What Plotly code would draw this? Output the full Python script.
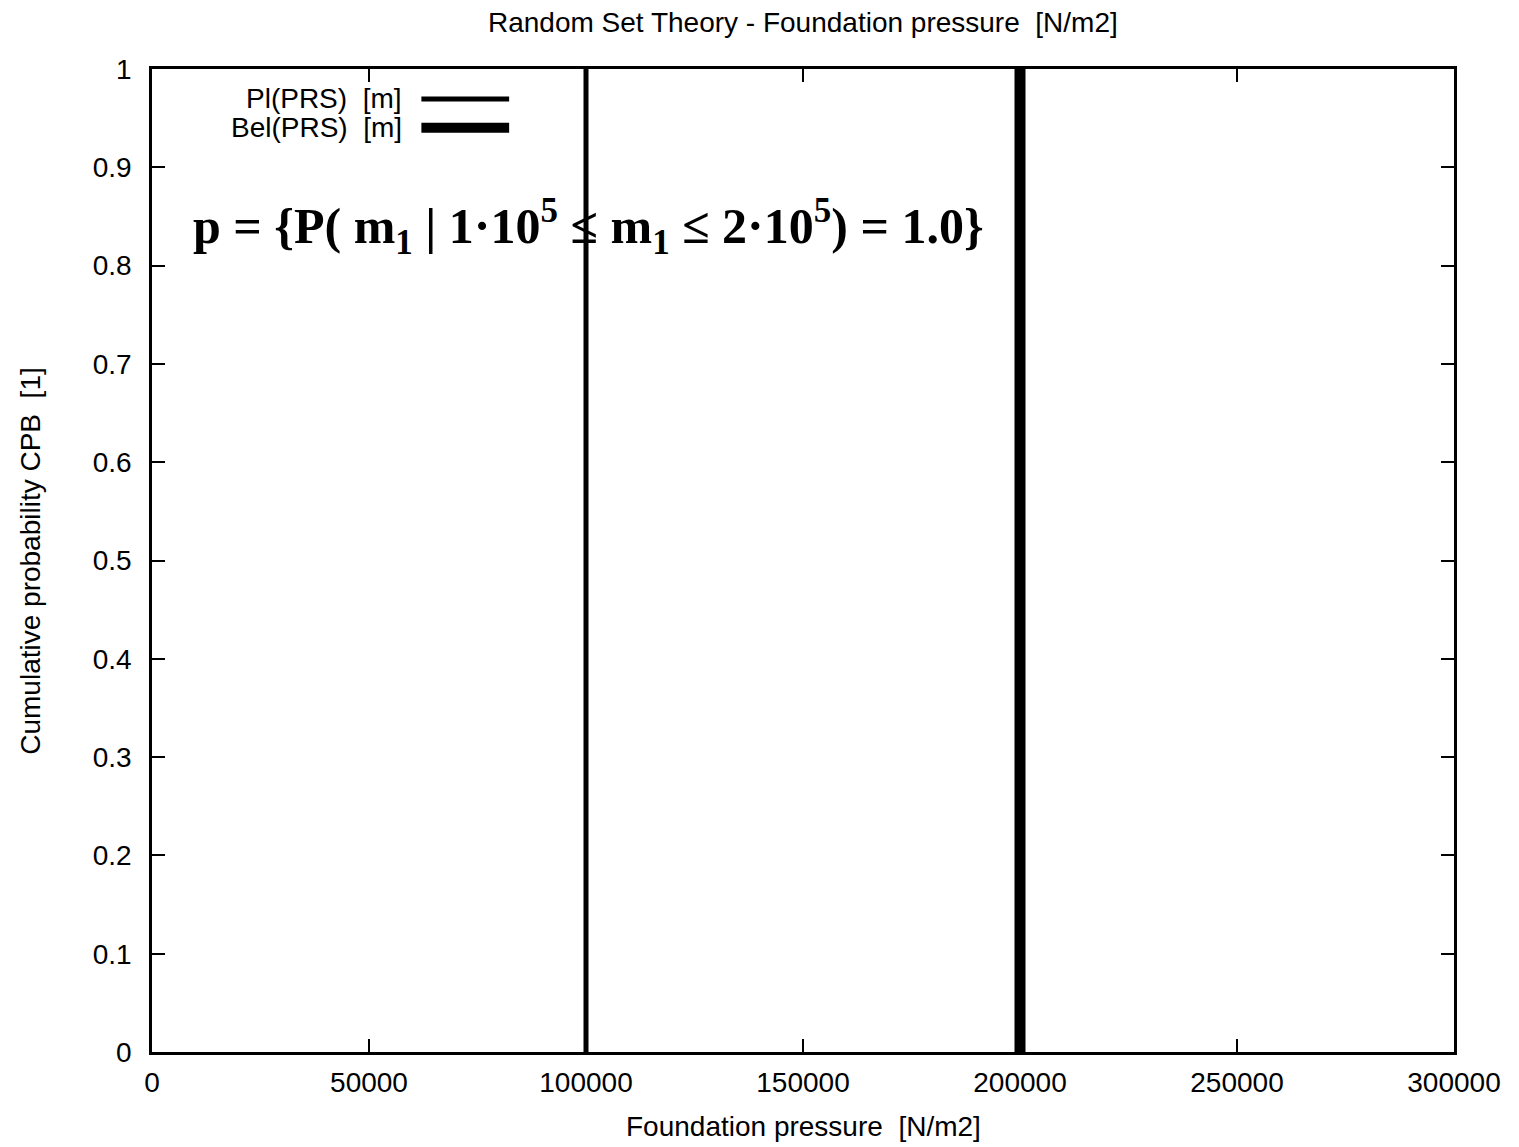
import plotly.graph_objects as go

# Data
pl_x = [100000, 100000]
pl_y = [0, 1]
bel_x = [200000, 200000]
bel_y = [0, 1]
x_ticks = [0, 50000, 100000, 150000, 200000, 250000, 300000]
y_ticks = [0, 0.1, 0.2, 0.3, 0.4, 0.5, 0.6, 0.7, 0.8, 0.9, 1]
y_tick_labels = ["0", "0.1", "0.2", "0.3", "0.4", "0.5", "0.6", "0.7", "0.8", "0.9", "1"]
legend_names = ["Pl(PRS)  [m]", "Bel(PRS)  [m]"]
title_text = "Random Set Theory - Foundation pressure  [N/m2]"
x_title = "Foundation pressure  [N/m2]"
y_title = "Cumulative probability CPB  [1]"

FONT = "Liberation Sans, Arial, sans-serif"
FS = 28

fig = go.Figure()
fig.add_trace(go.Scatter(x=pl_x, y=pl_y, mode="lines", name=legend_names[0],
                         line=dict(color="black", width=5), showlegend=False))
fig.add_trace(go.Scatter(x=bel_x, y=bel_y, mode="lines", name=legend_names[1],
                         line=dict(color="black", width=11), showlegend=False))

# custom gnuplot-style legend (text left, sample right)
leg_y = [0.9696, 0.9402]
leg_w = [5, 10]
for name, ly, lw in zip(legend_names, leg_y, leg_w):
    fig.add_annotation(x=0.1939, y=ly, xref="paper", yref="paper", text=name, showarrow=False,
                       xanchor="right", yanchor="middle", font=dict(family=FONT, size=FS, color="black"))
    fig.add_shape(type="line", xref="paper", yref="paper", x0=0.2069, x1=0.2743, y0=ly, y1=ly,
                  line=dict(color="black", width=lw))

formula = ("p = {P( m<sub>1</sub> | 1·10<sup>5</sup> ≤ m<sub>1</sub> ≤ 2·10<sup>5</sup>) = 1.0}")
fig.add_annotation(x=0.335, y=0.84, xref="paper", yref="paper", text="<b>" + formula + "</b>",
                   showarrow=False, xanchor="center", yanchor="middle",
                   font=dict(family="Liberation Serif, DejaVu Serif, serif", size=50, color="black"))

# titles
fig.add_annotation(x=0.5, y=1.0476, xref="paper", yref="paper", text=title_text, showarrow=False,
                   xanchor="center", yanchor="middle", font=dict(family=FONT, size=FS, color="black"))
fig.add_annotation(x=0.5, y=-0.076, xref="paper", yref="paper", text=x_title, showarrow=False,
                   xanchor="center", yanchor="middle", font=dict(family=FONT, size=FS, color="black"))
fig.add_annotation(x=-0.0935, y=0.5, xref="paper", yref="paper", text=y_title, showarrow=False,
                   textangle=-90, xanchor="center", yanchor="middle",
                   font=dict(family=FONT, size=FS, color="black"))

axis_common = dict(showline=True, linecolor="black", linewidth=2.5, mirror="ticks",
                   ticks="inside", ticklen=13, tickwidth=2, tickcolor="black",
                   showgrid=False, zeroline=False,
                   tickfont=dict(family=FONT, size=FS, color="black"))

fig.update_layout(
    width=1511, height=1139,
    margin=dict(l=144, r=65, t=61, b=95, autoexpand=False),
    paper_bgcolor="white", plot_bgcolor="white",
    xaxis=dict(range=[0, 300000], tickvals=x_ticks, ticktext=[str(v) for v in x_ticks],
               ticklabelstandoff=4, **axis_common),
    yaxis=dict(range=[0, 1], tickvals=y_ticks, ticktext=y_tick_labels,
               ticklabelstandoff=12, **axis_common),
)

fig.write_html("out.html")
